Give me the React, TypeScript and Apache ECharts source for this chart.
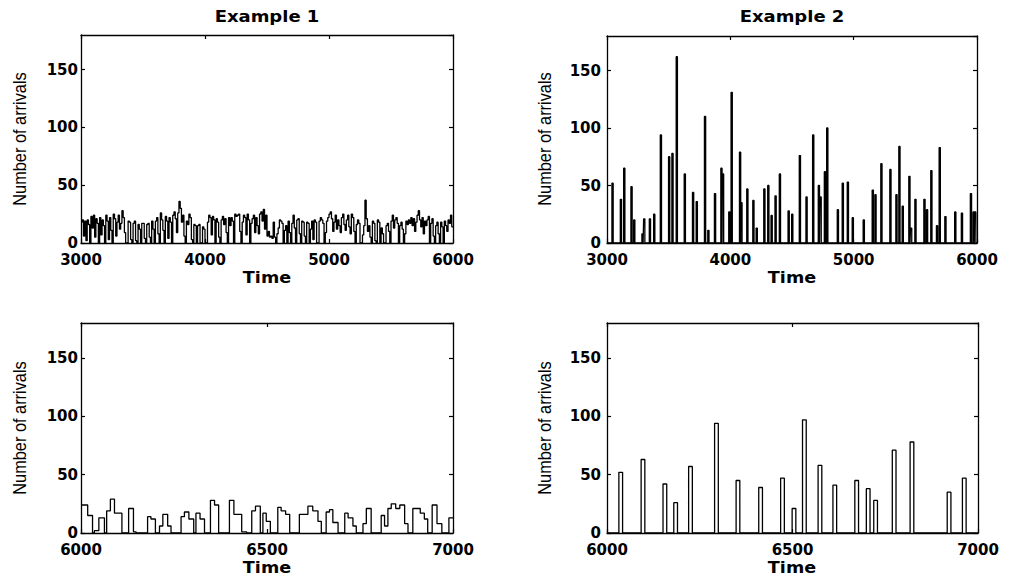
import React, { useEffect, useRef } from "react";
import * as echarts from "echarts";

// ---------- data ----------
// Example 1, 3000..6000, bin width 10
const ex1Start = 3000;
const ex1Bin = 10;
const ex1Values = [
  18, 20, 6, 19, 2, 20, 16, 0, 23, 13,
  24, 5, 21, 17, 0, 22, 7, 20, 15, 0,
  24, 19, 3, 22, 11, 0, 25, 21, 6, 18,
  24, 12, 17, 28, 22, 9, 0, 0, 19, 18,
  3, 0, 17, 19, 2, 0, 16, 12, 0, 17,
  17, 4, 0, 16, 17, 5, 0, 19, 12, 0,
  19, 22, 8, 0, 26, 20, 11, 0, 23, 19,
  4, 22, 18, 0, 24, 27, 21, 9, 26, 36,
  30, 18, 24, 6, 0, 19, 16, 25, 22, 3,
  0, 16, 15, 0, 15, 16, 0, 0, 14, 12,
  0, 0, 18, 24, 22, 7, 23, 20, 0, 21,
  18, 5, 0, 20, 23, 16, 21, 9, 0, 22,
  15, 22, 19, 0, 25, 23, 24, 25, 10, 0,
  18, 24, 22, 7, 25, 20, 0, 17, 21, 24,
  9, 22, 15, 8, 25, 27, 19, 29, 12, 24,
  6, 10, 5, 6, 4, 18, 5, 0, 8, 13,
  20, 19, 17, 0, 11, 15, 0, 19, 9, 0,
  17, 24, 13, 0, 20, 21, 8, 0, 19, 18,
  6, 0, 18, 17, 0, 12, 19, 3, 20, 18,
  0, 0, 19, 22, 20, 17, 0, 9, 19, 22,
  25, 27, 21, 10, 18, 24, 12, 20, 15, 9,
  22, 25, 16, 11, 20, 24, 14, 8, 25, 22,
  10, 0, 16, 20, 17, 0, 0, 7, 15, 37,
  21, 10, 15, 5, 0, 19, 17, 2, 0, 20,
  18, 0, 13, 8, 0, 0, 15, 17, 10, 0,
  19, 24, 13, 20, 22, 17, 0, 15, 18, 12,
  0, 8, 19, 16, 20, 17, 22, 15, 21, 10,
  18, 24, 28, 20, 14, 22, 8, 19, 15, 20,
  23, 0, 17, 21, 6, 0, 15, 18, 8, 0,
  18, 14, 0, 19, 15, 10, 20, 17, 24, 14,
];

// Example 1, 6000..7000, level changes (time, value)
const ex1bTimes = [
  6000, 6018, 6031, 6036, 6048, 6063, 6069, 6079, 6090, 6110,
  6128, 6141, 6148, 6179, 6188, 6200, 6211, 6220, 6233, 6242,
  6269, 6278, 6290, 6303, 6309, 6320, 6332, 6348, 6359, 6370,
  6399, 6411, 6432, 6445, 6459, 6469, 6482, 6489, 6498, 6509,
  6529, 6538, 6550, 6561, 6587, 6610, 6623, 6637, 6646, 6659,
  6668, 6677, 6691, 6709, 6718, 6731, 6740, 6758, 6767, 6780,
  6807, 6816, 6825, 6834, 6846, 6857, 6870, 6879, 6892, 6912,
  6923, 6932, 6944, 6957, 6970, 6989, 7000,
];
const ex1bValues = [
  24, 15, 0, 2, 13, 0, 19, 29, 17, 0,
  21, 1, 0, 14, 12, 0, 6, 16, 6, 0,
  14, 18, 12, 0, 17, 12, 0, 28, 24, 0,
  28, 16, 1, 0, 19, 23, 0, 17, 10, 0,
  22, 19, 16, 0, 16, 23, 19, 10, 0, 18,
  20, 9, 0, 17, 13, 6, 0, 8, 21, 0,
  15, 6, 21, 25, 21, 24, 8, 0, 21, 17,
  12, 0, 24, 8, 0, 13, 13,
];

// Example 2, 3000..6000, bursts (start time, height)
const ex2Times = [
  3040, 3108, 3135, 3194, 3216, 3283, 3297, 3343, 3378, 3432,
  3499, 3526, 3561, 3626, 3693, 3723, 3790, 3817, 3871, 3923,
  3936, 3987, 4006, 4074, 4085, 4133, 4182, 4209, 4271, 4303,
  4330, 4362, 4397, 4468, 4497, 4559, 4613, 4667, 4713, 4727,
  4762, 4781, 4867, 4907, 4948, 4988, 5077, 5150, 5172, 5220,
  5293, 5342, 5366, 5393, 5447, 5461, 5496, 5569, 5590, 5625,
  5671, 5693, 5739, 5819, 5873, 5946, 5968, 5981,
];
const ex2Heights = [
  52, 38, 65, 49, 20, 8, 21, 21, 25, 94,
  75, 78, 162, 60, 44, 36, 110, 11, 43, 65,
  60, 27, 131, 79, 35, 47, 37, 13, 47, 50,
  24, 41, 60, 28, 25, 76, 40, 94, 50, 40,
  62, 100, 29, 52, 53, 22, 20, 46, 42, 69,
  64, 42, 84, 32, 58, 13, 38, 38, 29, 63,
  15, 83, 23, 27, 26, 43, 27, 27,
];

// Example 2, 6000..7000, bursts (start time, height)
const ex2bTimes = [
  6032, 6092, 6151, 6180, 6220, 6290, 6348, 6409, 6468, 6499,
  6527, 6569, 6609, 6668, 6699, 6719, 6769, 6817, 6917, 6958,
];
const ex2bHeights = [
  52, 63, 42, 26, 57, 94, 45, 39, 47, 21,
  97, 58, 41, 45, 38, 28, 71, 78, 35, 47,
];
const burstWidth = 10;

const titles = ["Example 1", "Example 2"];
const xLabel = "Time";
const yLabel = "Number of arrivals";
const yTicks = [0, 50, 100, 150];

// ---------- builders ----------
function binsToSteps(start: number, bin: number, vals: number[]) {
  const pts: number[][] = vals.map((v, i) => [start + i * bin, v]);
  pts.push([start + vals.length * bin, vals[vals.length - 1]]);
  return pts;
}
function levelsToSteps(times: number[], vals: number[]) {
  return times.map((t, i) => [t, vals[i]]);
}
function burstsToLine(times: number[], hs: number[], w: number, from: number, to: number) {
  const pts: number[][] = [[from, 0]];
  times.forEach((t, i) => {
    pts.push([t, 0], [t, hs[i]], [t + w, hs[i]], [t + w, 0]);
  });
  pts.push([to, 0]);
  return pts;
}

const FONT = "DejaVu Sans";

export default function App() {
  const ref = useRef<HTMLDivElement>(null);
  useEffect(() => {
    document.body.style.margin = "0";
    if (!ref.current) return;
    const chart = echarts.init(ref.current, undefined, { renderer: "svg" });

    const grids = [
      { left: 81, top: 35, width: 372, height: 208 },
      { left: 607, top: 36, width: 370, height: 207 },
      { left: 81, top: 323, width: 372, height: 210 },
      { left: 607, top: 323, width: 371, height: 210 },
    ];
    const ranges = [
      [3000, 6000, 1000],
      [3000, 6000, 1000],
      [6000, 7000, 500],
      [6000, 7000, 500],
    ];
    const labelMargins = [3, 6, 3, 6];
    const axisLine = { show: true, onZero: false, lineStyle: { color: "#000", width: 1.3 } };
    const tick = { show: true, inside: true, length: 4, lineStyle: { color: "#000", width: 1.2 } };
    const labelStyle = {
      color: "#000",
      fontFamily: FONT,
      fontSize: 15,
      fontWeight: "bold" as const,
    };

    const xAxis: any[] = [];
    const yAxis: any[] = [];
    grids.forEach((_, i) => {
      const [mn, mx, iv] = ranges[i];
      xAxis.push({
        type: "value", gridIndex: i, position: "bottom", min: mn, max: mx, interval: iv,
        axisLine, axisTick: tick, splitLine: { show: false },
        axisLabel: { ...labelStyle, margin: 9, formatter: (v: number) => String(v) },
      });
      xAxis.push({
        type: "value", gridIndex: i, position: "top", min: mn, max: mx, interval: iv,
        axisLine, axisTick: tick, splitLine: { show: false }, axisLabel: { show: false },
      });
      yAxis.push({
        type: "value", gridIndex: i, position: "left", min: 0, max: 180, interval: 50,
        axisLine, axisTick: tick, splitLine: { show: false },
        axisLabel: {
          ...labelStyle, margin: labelMargins[i], showMaxLabel: false,
          formatter: (v: number) => (yTicks.indexOf(v) >= 0 ? String(v) : ""),
        },
      });
      yAxis.push({
        type: "value", gridIndex: i, position: "right", min: 0, max: 180, interval: 50,
        axisLine, axisTick: tick, splitLine: { show: false }, axisLabel: { show: false },
      });
    });

    const lineStyle = { color: "#000", width: 1.3 };
    const mk = (i: number, data: number[][], step: any) => ({
      type: "line", xAxisIndex: 2 * i, yAxisIndex: 2 * i, data, step,
      showSymbol: false, symbol: "none", lineStyle, clip: true, silent: true,
    });

    const series = [
      mk(0, binsToSteps(ex1Start, ex1Bin, ex1Values), "end"),
      mk(1, burstsToLine(ex2Times, ex2Heights, burstWidth, 3000, 6000), false),
      mk(2, levelsToSteps(ex1bTimes, ex1bValues), "end"),
      mk(3, burstsToLine(ex2bTimes, ex2bHeights, burstWidth, 6000, 7000), false),
    ];

    const txt = (
      text: string, x: number, y: number, font: string, sx: number, rot = 0
    ) => ({
      type: "text", x, y, rotation: rot, scaleX: sx,
      style: { text, align: "center", verticalAlign: "middle", fill: "#000", font },
    });
    const titleFont = `bold 15px "DejaVu Sans"`;
    const timeFont = `bold 16px "DejaVu Sans"`;
    const yFont = `19px "Liberation Sans"`;
    const graphic = [
      txt(titles[0], 267, 17, titleFont, 1.2),
      txt(titles[1], 792, 17, titleFont, 1.2),
      txt(xLabel, 267, 277, timeFont, 1.1),
      txt(xLabel, 792, 277, timeFont, 1.1),
      txt(xLabel, 267, 567, timeFont, 1.1),
      txt(xLabel, 792, 567, timeFont, 1.1),
      txt(yLabel, 20, 139, yFont, 0.86, Math.PI / 2),
      txt(yLabel, 545, 139, yFont, 0.86, Math.PI / 2),
      txt(yLabel, 20, 428, yFont, 0.86, Math.PI / 2),
      txt(yLabel, 545, 428, yFont, 0.86, Math.PI / 2),
    ];

    chart.setOption({
      animation: false,
      backgroundColor: "#fff",
      grid: grids.map((g) => ({ ...g, containLabel: false })),
      xAxis,
      yAxis,
      series,
      graphic,
    });
    return () => chart.dispose();
  }, []);
  return <div ref={ref} style={{ width: 1011, height: 578 }} />;
}
